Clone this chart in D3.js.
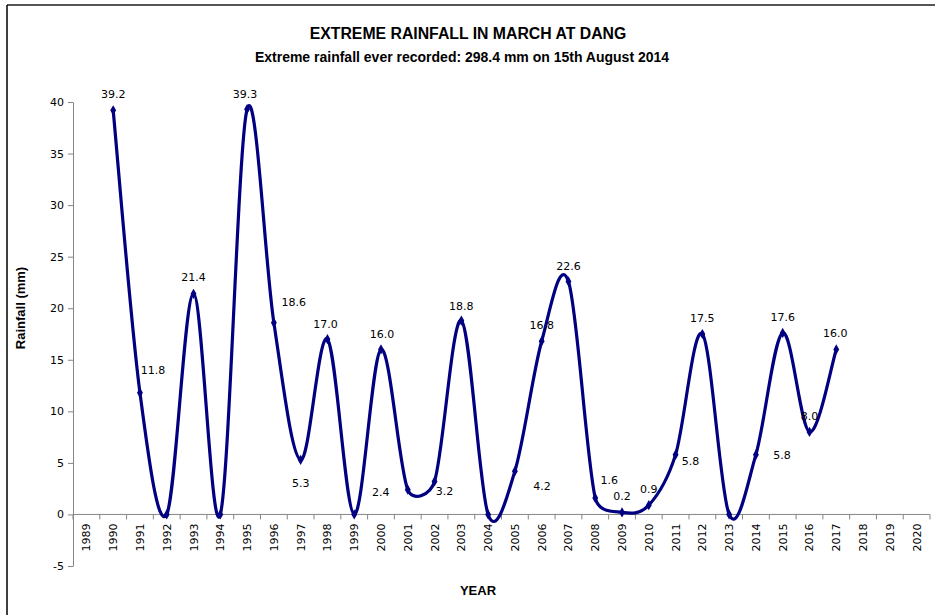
<!DOCTYPE html>
<html>
<head>
<meta charset="utf-8">
<script src="https://cdn.jsdelivr.net/npm/d3@7/dist/d3.min.js"></script>
<style>
  html, body { margin: 0; padding: 0; background: #fff; }
  svg { display: block; }
  text { font-family: "Liberation Sans", Arial, sans-serif; fill: #000; }
</style>
</head>
<body>
<svg id="chart" width="935" height="615"></svg>
<script>
// Category axis: every year shown on the axis
const years = d3.range(1989, 2021);

// Extreme March rainfall (mm) by year
const dataYears = [1990, 1991, 1992, 1993, 1994, 1995, 1996, 1997, 1998, 1999,
                   2000, 2001, 2002, 2003, 2004, 2005, 2006, 2007, 2008, 2009,
                   2010, 2011, 2012, 2013, 2014, 2015, 2016, 2017];
const rainfall = [39.2, 11.8, 0, 21.4, 0, 39.3, 18.6, 5.3, 17.0, 0,
                  16.0, 2.4, 3.2, 18.8, 0, 4.2, 16.8, 22.6, 1.6, 0.2,
                  0.9, 5.8, 17.5, 0, 5.8, 17.6, 8.0, 16.0];

// Value axis ticks
const yTicks = [-5, 0, 5, 10, 15, 20, 25, 30, 35, 40];

// Label placement around each point (pixels: dx, dy of label centre)
const labelNudge = [[0,-16],[13,-23],[0,0],[0,-17],[0,0],[-2,-15],[20,-21],[0,23],[-2,-15],[0,0],
                    [1,-15],[-27,2],[10,10],[0,-15],[0,0],[27,15],[0,-16],[0,-15],[14,-18],[0,-16],
                    [0,-16],[15,6],[0,-16],[0,0],[26,0],[0,-16],[0,-16],[-1,-16]];

// Spreadsheet-style smoothing: Bezier segments whose handles follow the
// neighbouring points but never reach past half of the segment length.
function SmoothCurve(context) { this._context = context; }
SmoothCurve.prototype = {
  areaStart() { this._line = 0; },
  areaEnd() { this._line = NaN; },
  lineStart() { this._pts = []; },
  point(px, py) { this._pts.push([+px, +py]); },
  lineEnd() {
    const p = this._pts, n = p.length, c = this._context;
    if (!n) return;
    c.moveTo(p[0][0], p[0][1]);
    const dist = (a, b) => Math.hypot(b[0] - a[0], b[1] - a[1]);
    for (let i = 0; i < n - 1; i++) {
      const p0 = p[i - 1] || p[i], p1 = p[i], p2 = p[i + 1], p3 = p[i + 2] || p[i + 1];
      const d12 = dist(p1, p2);
      const d02 = dist(p0, p2) || 1, d13 = dist(p1, p3) || 1;
      const l1 = Math.min(d02 / 6, d12 / 2), l2 = Math.min(d13 / 6, d12 / 2);
      const c1 = [p1[0] + (p2[0] - p0[0]) / d02 * l1, p1[1] + (p2[1] - p0[1]) / d02 * l1];
      const c2 = [p2[0] - (p3[0] - p1[0]) / d13 * l2, p2[1] - (p3[1] - p1[1]) / d13 * l2];
      c.bezierCurveTo(c1[0], c1[1], c2[0], c2[1], p2[0], p2[1]);
    }
  }
};
const curveSmooth = context => new SmoothCurve(context);

const svg = d3.select("#chart");

// chart frame
svg.append("line").attr("x1", 7).attr("x2", 935).attr("y1", 5).attr("y2", 5)
   .attr("stroke", "#555").attr("stroke-width", 2);
svg.append("line").attr("x1", 7).attr("x2", 7).attr("y1", 5).attr("y2", 615)
   .attr("stroke", "#000").attr("stroke-width", 1.5);

const x = d3.scaleBand().domain(years).range([73, 930]).padding(0);
const y = d3.scaleLinear().domain([-5, 40]).range([566, 102]);
const cx = yr => x(yr) + x.bandwidth() / 2;

// Titles
svg.append("text").attr("x", 468).attr("y", 39).attr("text-anchor", "middle")
   .style("font-weight", "bold").style("font-size", "15.8px")
   .text("EXTREME RAINFALL IN MARCH AT DANG");
svg.append("text").attr("x", 462).attr("y", 62).attr("text-anchor", "middle")
   .style("font-weight", "bold").style("font-size", "14px")
   .text("Extreme rainfall ever recorded: 298.4 mm on 15th August 2014");

// Y axis
const yAxis = svg.append("g").attr("transform", "translate(73,0)")
  .call(d3.axisLeft(y).tickValues(yTicks).tickFormat(d => String(d))
        .tickSize(5).tickSizeOuter(0).tickPadding(4));
yAxis.select(".domain").attr("stroke", "#868686");
yAxis.selectAll(".tick line").attr("stroke", "#868686");
yAxis.selectAll(".tick text").style("font-size", "11px")
  .style("font-family", "'DejaVu Sans', sans-serif").attr("fill", "#000");

// X axis at zero, labels between tick marks
const xAxisG = svg.append("g").attr("transform", `translate(0,${y(0)})`);
xAxisG.append("line").attr("x1", 73).attr("x2", 930).attr("y1", 0).attr("y2", 0)
  .attr("stroke", "#868686");
xAxisG.selectAll("line.tk").data(years.concat([null])).join("line")
  .attr("class", "tk")
  .attr("x1", d => d === null ? x.range()[1] : x(d))
  .attr("x2", d => d === null ? x.range()[1] : x(d))
  .attr("y1", 0).attr("y2", 5).attr("stroke", "#868686");
xAxisG.selectAll("text").data(years).join("text")
  .attr("transform", d => `translate(${cx(d) + 4},9) rotate(-90)`)
  .attr("text-anchor", "end")
  .style("font-size", "11px").style("font-family", "'DejaVu Sans', sans-serif")
  .text(d => d);

// Axis titles
svg.append("text").attr("x", 478).attr("y", 595).attr("text-anchor", "middle")
   .style("font-weight", "bold").style("font-size", "13px").text("YEAR");
svg.append("text").attr("transform", "translate(25,308) rotate(-90)")
   .attr("text-anchor", "middle").style("font-weight", "bold").style("font-size", "13px")
   .text("Rainfall (mm)");

// Smoothed series line
const pts = dataYears.map((yr, i) => ({ year: yr, v: rainfall[i], i }));
const line = d3.line().x(d => cx(d.year)).y(d => y(d.v)).curve(curveSmooth);
svg.append("path").datum(pts).attr("d", line)
   .attr("fill", "none").attr("stroke", "#000080").attr("stroke-width", 3.2)
   .attr("stroke-linejoin", "round").attr("stroke-linecap", "round");

// Diamond markers
svg.selectAll("path.mk").data(pts).join("path").attr("class", "mk")
   .attr("transform", d => `translate(${cx(d.year)},${y(d.v)})`)
   .attr("d", d3.symbol().type(d3.symbolDiamond).size(30))
   .attr("fill", "#000080");

// Value labels (zero years carry no label)
svg.selectAll("text.lbl").data(pts.filter(d => d.v !== 0)).join("text").attr("class", "lbl")
   .attr("x", d => cx(d.year) + labelNudge[d.i][0])
   .attr("y", d => y(d.v) + labelNudge[d.i][1] + 4)
   .attr("text-anchor", "middle")
   .style("font-size", "11px").style("font-family", "'DejaVu Sans', sans-serif")
   .text(d => d.v.toFixed(1));
</script>
</body>
</html>
